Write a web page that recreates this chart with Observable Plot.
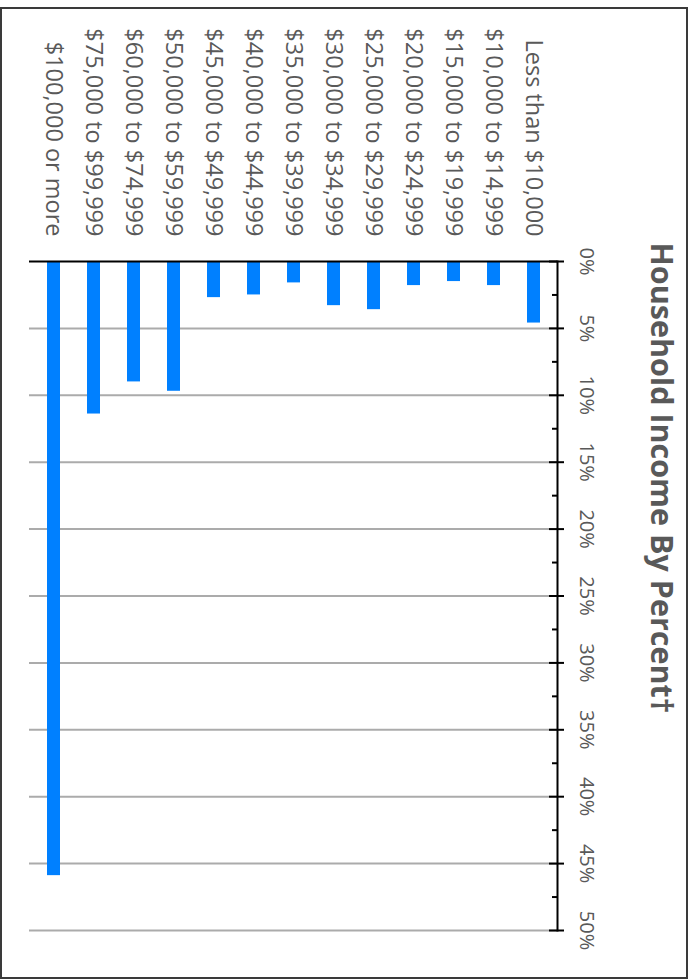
<!DOCTYPE html>
<html><head><meta charset="utf-8">
<script src="https://cdn.jsdelivr.net/npm/d3@7"></script>
<script src="https://cdn.jsdelivr.net/npm/@observablehq/plot@0.6"></script>
<style>
body{margin:0;background:#fff;}
#wrap{position:relative;width:696px;height:980px;}
#border{position:absolute;left:0;top:7px;width:688px;height:972px;border:2px solid #3a3a3a;box-sizing:border-box;pointer-events:none}
</style></head><body><div id="wrap"><div id="border"></div></div>
<script>
const categories = [
  "Less than $10,000", "$10,000 to $14,999", "$15,000 to $19,999", "$20,000 to $24,999",
  "$25,000 to $29,999", "$30,000 to $34,999", "$35,000 to $39,999", "$40,000 to $44,999",
  "$45,000 to $49,999", "$50,000 to $59,999", "$60,000 to $74,999", "$75,000 to $99,999",
  "$100,000 or more"
];
const percents = [4.6, 1.8, 1.5, 1.8, 3.6, 3.3, 1.6, 2.5, 2.7, 9.7, 9.0, 11.4, 45.9];
const majorTicks = [0, 5, 10, 15, 20, 25, 30, 35, 40, 45, 50];
const minorTicks = [2.5, 7.5, 12.5, 17.5, 22.5, 27.5, 32.5, 37.5, 42.5, 47.5];
const title = "Household Income By Percent†";

const data = categories.map((c, i) => ({category: c, percent: percents[i]}));
const gray = "#595959";

const chart = Plot.plot({
  width: 696, height: 980,
  marginTop: 261, marginBottom: 50, marginLeft: 29, marginRight: 139,
  style: {fontFamily: "'Open Sans', sans-serif", background: "transparent", overflow: "visible"},
  x: {domain: categories.slice().reverse(), type: "band", paddingInner: 0.68, paddingOuter: 0.34, axis: null},
  y: {domain: [0, 50], reverse: true, axis: null},
  marks: [
    Plot.ruleY(majorTicks.slice(1), {stroke: "#ababab", strokeWidth: 2}),
    Plot.barY(data, {x: "category", y: "percent", fill: "#0080ff"}),
    Plot.ruleY([0], {stroke: "#000", strokeWidth: 2}),
    Plot.frame({anchor: "right", stroke: "#000", strokeWidth: 2}),
    Plot.tickY(majorTicks, {y: d => d, insetLeft: 513, dx: 7, stroke: "#000", strokeWidth: 2}),
    Plot.tickY(minorTicks, {y: d => d, insetLeft: 523, stroke: "#000", strokeWidth: 2}),
    Plot.text(majorTicks, {y: d => d, text: d => `${d}%`, frameAnchor: "right", dx: 22, rotate: 90,
      textAnchor: "middle", lineAnchor: "bottom", fill: gray, fontSize: 20}),
    Plot.text(categories, {x: d => d, text: d => d, frameAnchor: "top", dy: -25, rotate: 90,
      textAnchor: "end", lineAnchor: "middle", fill: gray, fontSize: 23.5}),
    Plot.text([title], {text: d => d, frameAnchor: "top-right", dx: 103, dy: 216.5, rotate: 90,
      textAnchor: "middle", lineAnchor: "middle", fill: gray, fontSize: 30.5, fontWeight: "bold"})
  ]
});
document.getElementById("wrap").prepend(chart);
</script>
</body></html>
